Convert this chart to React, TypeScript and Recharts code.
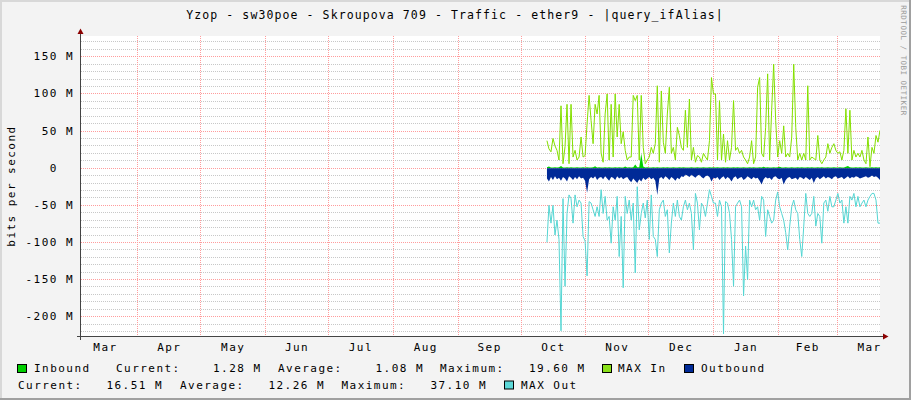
import React from 'react';
import { ComposedChart, Area, Line, XAxis, YAxis, CartesianGrid } from 'recharts';

// time axis: day numbers counted from 1 March of the first year
const MONTH_LABELS = ['Mar', 'Apr', 'May', 'Jun', 'Jul', 'Aug', 'Sep', 'Oct', 'Nov', 'Dec', 'Jan', 'Feb', 'Mar'];
const MONTH_MIDS = [15.5, 46, 76.5, 107, 137.5, 168.5, 199, 229.5, 260, 290.5, 321.5, 351, 380.5];
const MONTH_STARTS = [31, 61, 92, 122, 153, 184, 214, 245, 275, 306, 337, 365];
const X_DOMAIN = [3.8, 385.5];

// samples are evenly spaced between these two days
const FIRST_SAMPLE_DAY = 226.4;
const LAST_SAMPLE_DAY = 385.5;

// all values in Mbit/s, outbound drawn below zero
const INBOUND = [
  1.1, 2.4, 1.0, 0.9, 1.2, 1.0, 1.1, 2.8, 1.0, 0.9, 1.1, 1.0, 1.2, 0.9, 1.0, 1.1, 1.0, 0.9, 1.2, 1.0,
  1.1, 1.0, 0.9, 1.1, 2.6, 1.0, 1.1, 0.9, 1.0, 1.2, 1.0, 1.1, 0.9, 1.0, 1.1, 1.0, 1.2, 0.9, 1.0, 2.2, 1.0,
  1.1, 1.0, 1.2, 4.8, 1.3, 1.1, 19.6, 2.1, 1.0, 1.1, 0.9, 1.0, 1.2, 1.0, 1.1, 0.9, 1.0, 1.1, 1.0, 1.2,
  0.9, 1.0, 1.1, 1.0, 0.9, 1.2, 1.0, 1.1, 0.9, 1.0, 1.0, 1.1, 0.9, 1.0, 1.2, 1.0, 0.9, 1.1, 1.0, 1.0, 1.1, 0.9, 1.2,
  1.0, 1.1, 0.9, 1.0, 1.2, 1.0, 1.1, 0.9, 1.0, 1.1, 1.0, 1.2, 0.9, 1.0, 1.1, 1.0, 0.9, 1.1, 1.0, 1.2,
  1.0, 0.9, 1.1, 1.0, 2.0, 1.0, 1.1, 0.9, 1.0, 1.2, 1.0, 1.1, 1.9, 1.0, 0.9, 1.1, 1.0, 1.0, 1.2, 1.0, 0.9, 1.1, 1.0,
  1.1, 1.0, 0.9, 1.2, 1.0, 1.1, 1.0, 0.9, 1.1, 1.0, 1.2, 1.0, 0.9, 1.1, 1.0, 1.0, 1.2, 0.9, 1.0, 1.1,
  1.0, 1.0, 1.9, 2.8, 1.1, 1.0, 0.9, 1.1, 1.0, 1.2, 1.0, 0.9, 1.1, 1.0, 1.0, 1.2, 0.9, 1.1, 1.0, 1.28,
];

const MAX_IN = [
  37, 26, 22, 40, 30, 24, 11, 84, 6, 29, 86, 6, 86, 15, 24, 11, 15, 42, 15, 17,
  60, 98, 64, 33, 86, 73, 98, 20, 8, 73, 100, 11, 86, 15, 100, 42, 86, 33, 49, 24, 11,
  15, 15, 98, 91, 98, 11, 98, 28, 6, 11, 15, 28, 20, 33, 111, 8, 104, 35, 20, 73,
  109, 20, 28, 11, 55, 44, 28, 24, 78, 28, 93, 11, 28, 8, 17, 15, 8, 20, 15, 11, 37, 122, 100,
  100, 11, 91, 11, 46, 8, 37, 11, 28, 91, 24, 28, 20, 24, 15, 11, 6, 15, 37, 6,
  15, 109, 122, 20, 15, 55, 127, 11, 78, 140, 64, 15, 37, 20, 57, 15, 20, 15, 42, 140, 55, 11, 20,
  11, 20, 11, 111, 11, 15, 13, 11, 44, 11, 6, 11, 15, 33, 20, 28, 33, 24, 20, 22,
  11, 24, 80, 20, 78, 11, 24, 15, 20, 15, 24, 11, 6, 42, 2, 28, 20, 44, 35, 51,
];

const OUTBOUND = [
  -14, -18, -12, -16, -11, -15, -13, -17, -12, -14, -18, -11, -13, -16, -12, -15, -11, -14, -13, -17,
  -33, -15, -12, -14, -11, -16, -13, -12, -15, -11, -14, -17, -12, -13, -16, -11, -14, -12, -15, -13, -12,
  -16, -19, -14, -17, -20, -15, -18, -13, -16, -14, -12, -15, -13, -17, -36, -14, -12, -15, -11, -13,
  -16, -12, -14, -17, -13, -15, -11, -12, -9, -10, -12, -9, -11, -13, -10, -9, -12, -14, -11, -10, -12, -18, -13,
  -14, -12, -16, -13, -11, -15, -12, -14, -18, -13, -11, -15, -13, -12, -16, -14, -11, -13, -15, -12,
  -14, -13, -17, -22, -15, -12, -14, -13, -16, -12, -11, -14, -15, -13, -22, -16, -13, -12, -15, -14, -13, -16, -12,
  -13, -15, -12, -14, -16, -13, -20, -14, -12, -15, -13, -11, -14, -12, -13, -15, -12, -11, -14, -13,
  -12, -15, -13, -11, -14, -12, -13, -11, -12, -14, -13, -12, -11, -13, -12, -10, -12, -11, -13, -16,
];

const MAX_OUT = [
  -100, -50, -74, -50, -90, -70, -96, -219, -41, -159, -61, -36, -41, -74, -36, -52, -43, -47, -92, -98,
  -145, -45, -47, -56, -65, -52, -65, -29, -61, -38, -70, -65, -101, -52, -70, -38, -119, -65, -161, -38, -61,
  -43, -70, -47, -141, -25, -83, -61, -47, -67, -43, -96, -36, -92, -96, -119, -56, -47, -43, -65, -56,
  -114, -74, -47, -65, -43, -65, -70, -52, -43, -56, -47, -61, -110, -34, -47, -83, -47, -52, -65, -47, -29, -38, -47,
  -47, -65, -43, -52, -223, -45, -47, -61, -96, -159, -52, -47, -43, -52, -172, -105, -150, -43, -52, -43,
  -56, -52, -70, -38, -43, -92, -56, -65, -74, -70, -43, -32, -52, -61, -70, -87, -110, -78, -52, -43, -56, -61, -96,
  -119, -78, -34, -61, -65, -61, -38, -78, -61, -65, -101, -47, -43, -58, -38, -52, -52, -43, -34, -47,
  -43, -74, -52, -74, -38, -43, -34, -52, -38, -52, -47, -43, -52, -43, -38, -34, -34, -43, -74, -74,
];

const Y_TICKS = [-200, -150, -100, -50, 0, 50, 100, 150];
const Y_DOMAIN = [-226, 178];
const MINOR_Y: number[] = [];
for (let v = -220; v <= 170; v += 10) if (v % 50 !== 0) MINOR_Y.push(v);

const step = (LAST_SAMPLE_DAY - FIRST_SAMPLE_DAY) / (INBOUND.length - 1);
const rows = INBOUND.map((v, i) => ({
  day: FIRST_SAMPLE_DAY + i * step,
  inbound: v,
  maxIn: MAX_IN[i],
  outbound: OUTBOUND[i],
  maxOut: MAX_OUT[i],
}));

const FONT = '"DejaVu Sans Mono", monospace';
const TXT = { fontFamily: FONT, fontSize: 11, letterSpacing: '1.46px', fill: '#000' };

function YTick({ x, y, payload }: any) {
  const v = payload.value;
  return (
    <text x={v === 0 ? x - 16.2 : x} y={y} textAnchor="end" dominantBaseline="central" style={TXT}>
      {v === 0 ? '0' : `${v} M`}
    </text>
  );
}

function Swatch({ x, y, color }: { x: number; y: number; color: string }) {
  return <rect x={x + 0.5} y={y + 0.5} width={9} height={8} fill={color} stroke="#000" strokeWidth={1} />;
}

function Overlay() {
  const t = (x: number, y: number, s: string, anchor: 'start' | 'end' = 'start') => (
    <text x={x} y={y} textAnchor={anchor} dominantBaseline="central" style={TXT} xmlSpace="preserve">
      {s}
    </text>
  );
  return (
    <svg width={911} height={400} style={{ position: 'absolute', left: 0, top: 0, pointerEvents: 'none' }}>
      {/* frame shading */}
      <rect x={0} y={0} width={911} height={2} fill="#d8d8d8" />
      <rect x={0} y={0} width={2} height={400} fill="#d8d8d8" />
      <rect x={909} y={0} width={2} height={400} fill="#a0a0a0" />
      <rect x={0} y={398} width={911} height={2} fill="#a0a0a0" />

      <text x={455} y={15} textAnchor="middle" dominantBaseline="central"
        style={{ ...TXT, fontSize: 11.5, letterSpacing: '1.1px' }}>
        Yzop - sw30poe - Skroupova 709 - Traffic - ether9 - |query_ifAlias|
      </text>
      <text x={11.5} y={186} textAnchor="middle" dominantBaseline="central" transform="rotate(-90 11.5 186)" style={TXT}>
        bits per second
      </text>
      <text x={903} y={60.5} textAnchor="middle" dominantBaseline="central" transform="rotate(90 903 60.5)"
        style={{ fontFamily: FONT, fontSize: 7.5, letterSpacing: '0.5px', fill: '#9a9a9a' }}>
        RRDTOOL / TOBI OETIKER
      </text>

      {/* axes */}
      <line x1={80.5} y1={33} x2={80.5} y2={340} stroke="#444" />
      <line x1={77} y1={336.5} x2={884} y2={336.5} stroke="#444" />
      <polygon points="77.5,34 83.5,34 80.5,28.5" fill="#8b0000" />
      <polygon points="883,333.5 883,339.5 888.5,336.5" fill="#8b0000" />

      {/* legend */}
      <Swatch x={17} y={364} color="#00CF00" />
      {t(34, 368.5, 'Inbound')}
      {t(116, 368.5, 'Current:')}
      {t(261.5, 368.5, '1.28 M', 'end')}
      {t(278, 368.5, 'Average:')}
      {t(424, 368.5, '1.08 M', 'end')}
      {t(440, 368.5, 'Maximum:')}
      {t(585.5, 368.5, '19.60 M', 'end')}
      <Swatch x={602} y={364} color="#8AE01A" />
      {t(618, 368.5, 'MAX In')}
      <Swatch x={684} y={364} color="#002A97" />
      {t(701, 368.5, 'Outbound')}

      {t(18, 385, 'Current:')}
      {t(163, 385, '16.51 M', 'end')}
      {t(180, 385, 'Average:')}
      {t(325, 385, '12.26 M', 'end')}
      {t(341.5, 385, 'Maximum:')}
      {t(487, 385, '37.10 M', 'end')}
      <Swatch x={504} y={380.5} color="#5CD8D8" />
      {t(521, 385, 'MAX Out')}
    </svg>
  );
}

export default function App() {
  return (
    <div style={{ position: 'relative', width: 911, height: 400, background: '#F3F3F3', fontFamily: FONT }}>
      <style>{`body{margin:0}`}</style>
      <ComposedChart width={911} height={400} data={rows} margin={{ top: 36, right: 31, bottom: 42, left: 0 }}>
        <CartesianGrid fill="#ffffff" horizontalValues={MINOR_Y} vertical={false} stroke="#c8c8c8"
          strokeDasharray="1 1" shapeRendering="crispEdges" />
        <CartesianGrid horizontalValues={Y_TICKS} verticalValues={MONTH_STARTS} stroke="#ff9c9c"
          strokeDasharray="1 1" shapeRendering="crispEdges" />
        <XAxis
          dataKey="day"
          type="number"
          domain={X_DOMAIN}
          allowDataOverflow
          ticks={MONTH_MIDS}
          interval={0}
          tickFormatter={(v: number) => MONTH_LABELS[MONTH_MIDS.indexOf(v)]}
          axisLine={false}
          tickLine={false}
          tickSize={0}
          tickMargin={7}
          height={22}
          tick={{ ...TXT }}
        />
        <YAxis
          type="number"
          domain={Y_DOMAIN}
          allowDataOverflow
          ticks={Y_TICKS}
          interval={0}
          width={81}
          axisLine={false}
          tickLine={false}
          tickSize={0}
          tickMargin={7}
          tick={<YTick />}
        />
        <Area dataKey="inbound" type="linear" fill="#00CF00" fillOpacity={1} stroke="none"
          dot={false} activeDot={false} isAnimationActive={false} />
        <Line dataKey="maxIn" type="linear" stroke="#84E000" strokeWidth={1}
          dot={false} activeDot={false} isAnimationActive={false} />
        <Area dataKey="outbound" type="linear" fill="#002A97" fillOpacity={1} stroke="none"
          dot={false} activeDot={false} isAnimationActive={false} />
        <Line dataKey="maxOut" type="linear" stroke="#55D6D3" strokeWidth={1}
          dot={false} activeDot={false} isAnimationActive={false} />
      </ComposedChart>
      <Overlay />
    </div>
  );
}
